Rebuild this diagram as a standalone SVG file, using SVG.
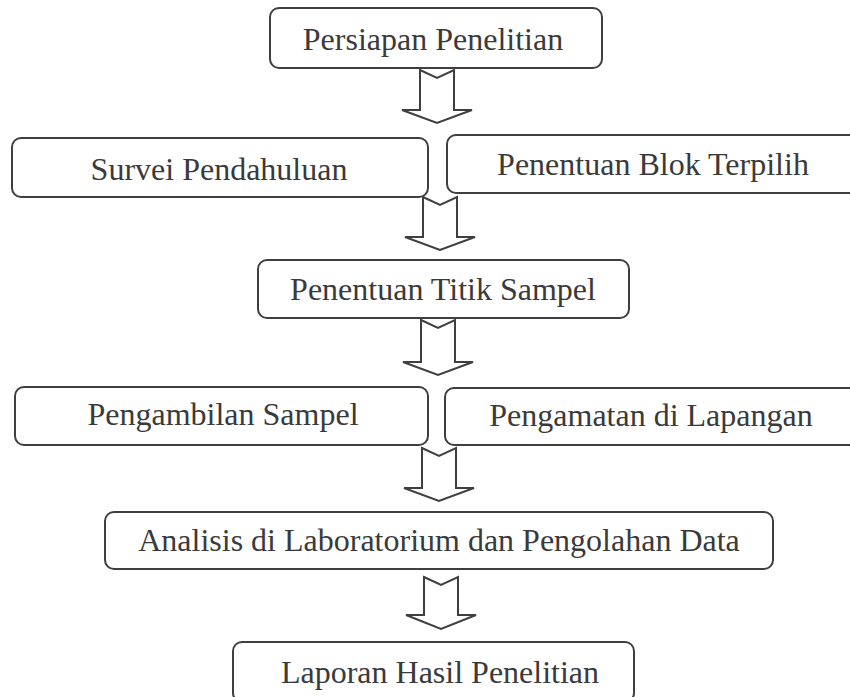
<svg xmlns="http://www.w3.org/2000/svg" width="850" height="697" viewBox="0 0 850 697">
<style>
.box{fill:#ffffff;stroke:#3f3f3f;stroke-width:2}
.lbl{font-family:"Liberation Serif","Times New Roman",serif;font-size:32px;fill:#3a3a3a;text-anchor:middle}
.arr{fill:#ffffff;stroke:#3f3f3f;stroke-width:2;stroke-linejoin:miter}
</style>
<rect width="850" height="697" fill="#ffffff"/>
<g id="connectors">
<path class="arr" d="M420,70 L437,78 L454,70 L454,110 L472,110 L437,123 L402,110 L420,110 Z"/>
<path class="arr" d="M423,197 L440,205 L457,197 L457,237 L475,237 L440,250 L405,237 L423,237 Z"/>
<path class="arr" d="M421,320 L438,328 L455,320 L455,362 L473,362 L438,375 L403,362 L421,362 Z"/>
<path class="arr" d="M422,448 L439,456 L456,448 L456,488 L474,488 L439,501 L404,488 L422,488 Z"/>
<path class="arr" d="M424,577 L441,585 L458,577 L458,615 L476,615 L441,629 L406,615 L424,615 Z"/>
</g>
<g id="persiapan">
<rect class="box" x="270" y="8" width="332" height="60" rx="9"/>
<text class="lbl" x="433" y="50">Persiapan Penelitian</text>
</g>
<g id="survei">
<rect class="box" x="12" y="138" width="416" height="59" rx="9"/>
<text class="lbl" x="219" y="180">Survei Pendahuluan</text>
</g>
<g id="blok">
<rect class="box" x="447" y="135" width="413" height="58" rx="9"/>
<text class="lbl" x="653" y="175">Penentuan Blok Terpilih</text>
</g>
<g id="titik">
<rect class="box" x="258" y="260" width="371" height="58" rx="9"/>
<text class="lbl" x="443" y="300">Penentuan Titik Sampel</text>
</g>
<g id="pengambilan">
<rect class="box" x="15" y="387" width="413" height="58" rx="9"/>
<text class="lbl" x="223" y="425">Pengambilan Sampel</text>
</g>
<g id="pengamatan">
<rect class="box" x="445" y="388" width="413" height="57" rx="9"/>
<text class="lbl" x="651" y="426">Pengamatan di Lapangan</text>
</g>
<g id="analisis">
<rect class="box" x="105" y="512" width="668" height="57" rx="9"/>
<text class="lbl" x="439" y="551">Analisis di Laboratorium dan Pengolahan Data</text>
</g>
<g id="laporan">
<rect class="box" x="233" y="642" width="401" height="60" rx="9"/>
<text class="lbl" x="440" y="683">Laporan Hasil Penelitian</text>
</g>
</svg>
